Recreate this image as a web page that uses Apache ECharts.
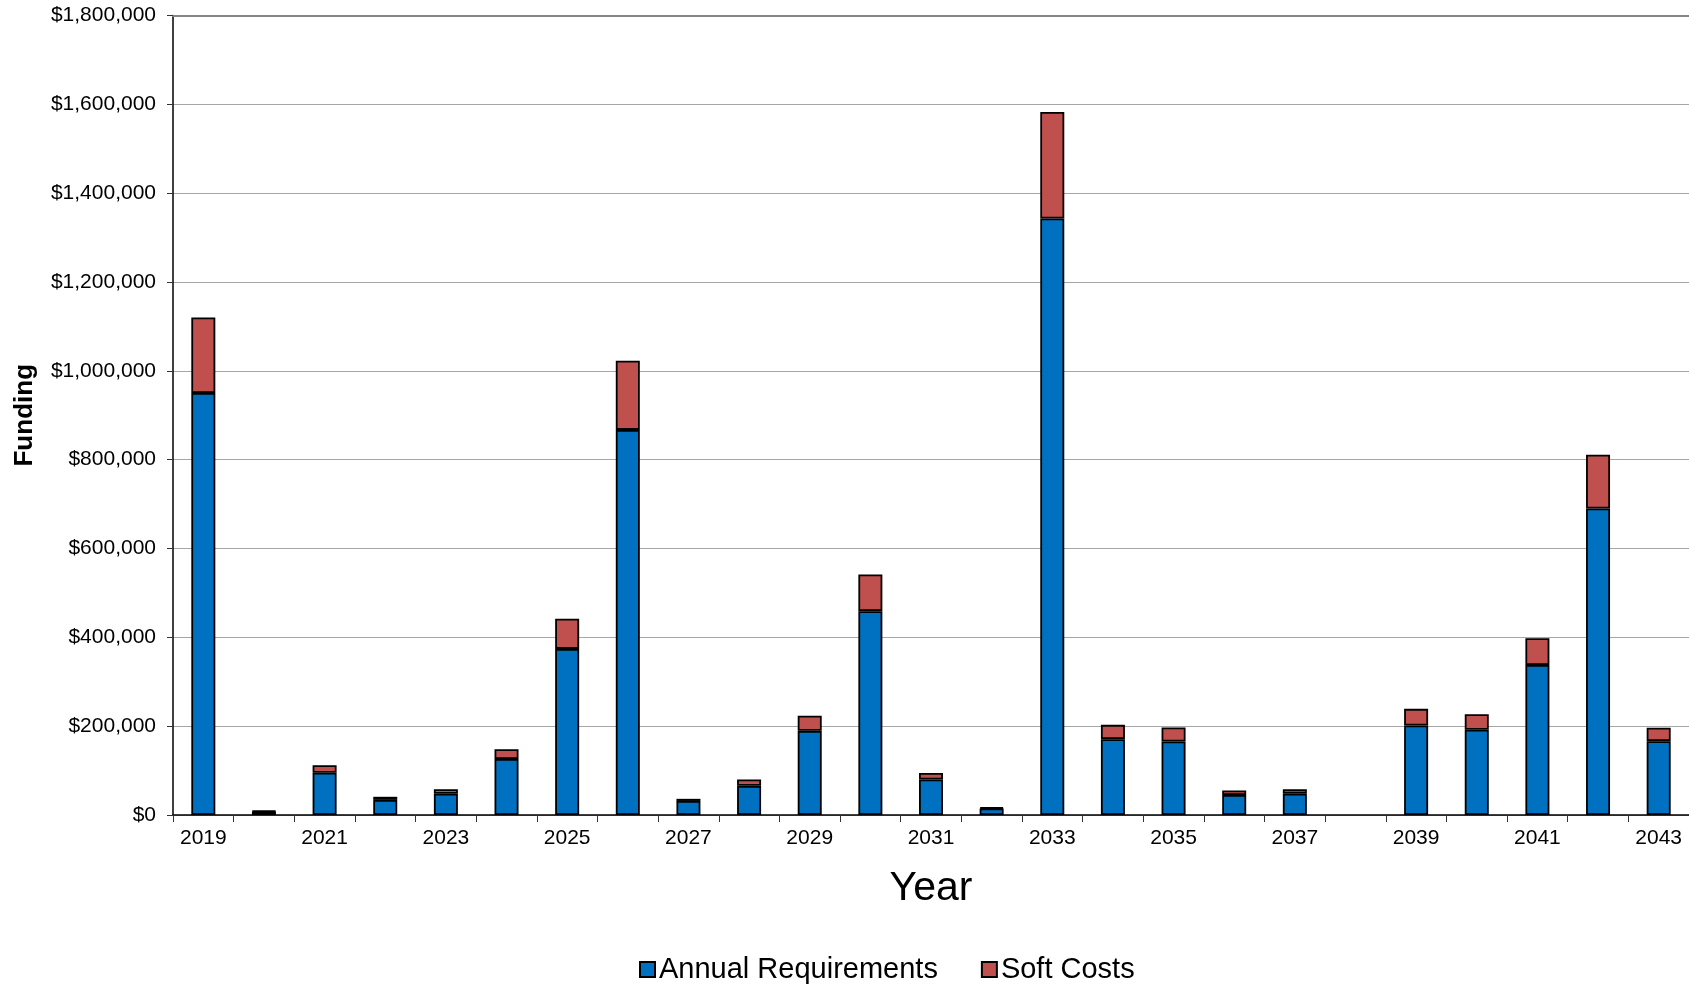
<!DOCTYPE html>
<html>
<head>
<meta charset="utf-8">
<style>
  html, body { margin: 0; padding: 0; background: #ffffff; }
  #chart { width: 1689px; height: 985px; }
</style>
<script src="https://cdn.jsdelivr.net/npm/echarts@6/dist/echarts.min.js"></script>
</head>
<body>
<div id="chart"></div>
<script>
// Funding plan by year: base requirements plus soft costs, stacked.
const years = ['2019','2020','2021','2022','2023','2024','2025','2026','2027','2028','2029','2030',
               '2031','2032','2033','2034','2035','2036','2037','2038','2039','2040','2041','2042','2043'];

const annualRequirements = [950000, 8000, 95000, 34000, 48000, 126000, 374000, 867000, 31600, 65600,
                            189500, 459000, 80000, 14600, 1343000, 170800, 165500, 45000, 48000, null,
                            201500, 191800, 337600, 690000, 166300];

const softCosts = [170000, 1700, 17000, 7000, 10000, 22000, 68000, 155600, 4800, 14400,
                   34000, 82700, 14700, 2400, 240000, 32200, 31500, 10400, 9700, null,
                   37500, 35200, 60400, 121300, 30000];

const yTicks = { min: 0, max: 1800000, step: 200000 };

const FONT = '"Liberation Sans", Arial, sans-serif';

const chart = echarts.init(document.getElementById('chart'), null, { renderer: 'canvas' });

const money = v => '$' + Math.round(v).toLocaleString('en-US');

chart.setOption({
  backgroundColor: '#ffffff',
  animation: false,
  textStyle: { fontFamily: FONT, color: '#000' },
  grid: { left: 173, right: 0, top: 15.5, bottom: 170, containLabel: false },
  legend: {
    left: 634,
    top: 950,
    itemWidth: 15,
    itemHeight: 15,
    itemGap: 43,
    icon: 'rect',
    textStyle: { fontFamily: FONT, fontSize: 29, color: '#000', padding: [0, 0, 0, -1] },
    data: ['Annual Requirements', 'Soft Costs']
  },
  xAxis: [
    {
      type: 'category',
      data: years,
      position: 'bottom',
      boundaryGap: true,
      name: 'Year',
      nameLocation: 'middle',
      nameGap: 53,
      nameTextStyle: { fontFamily: FONT, fontSize: 41, color: '#000' },
      axisLine: { show: true, lineStyle: { color: '#000', width: 1.5 } },
      axisTick: { show: true, interval: 0, alignWithLabel: false, length: 7, lineStyle: { color: '#333', width: 1 } },
      axisLabel: { interval: 1, margin: 13, fontFamily: FONT, fontSize: 21, color: '#000' },
      splitLine: { show: false }
    },
    {
      // top frame line of the plot area
      type: 'category',
      data: years,
      position: 'top',
      axisLine: { show: true, lineStyle: { color: '#858585', width: 2 } },
      axisTick: { show: false },
      axisLabel: { show: false },
      splitLine: { show: false }
    }
  ],
  yAxis: {
    type: 'value',
    min: yTicks.min,
    max: yTicks.max,
    interval: yTicks.step,
    name: 'Funding',
    nameLocation: 'middle',
    nameGap: 135,
    nameTextStyle: { fontFamily: FONT, fontSize: 26, fontWeight: 'bold', color: '#000' },
    axisLine: { show: true, lineStyle: { color: '#000', width: 1.5 } },
    axisTick: { show: true, length: 6, lineStyle: { color: '#333', width: 1 } },
    axisLabel: { margin: 17, fontFamily: FONT, fontSize: 21, color: '#000', formatter: money },
    splitLine: { show: true, lineStyle: { color: '#a6a6a6', width: 1 } }
  },
  series: [
    {
      name: 'Annual Requirements',
      type: 'bar',
      stack: 'total',
      xAxisIndex: 0,
      barWidth: 24,
      data: annualRequirements,
      itemStyle: { color: '#0070C0', borderColor: '#000', borderWidth: 1.8 }
    },
    {
      name: 'Soft Costs',
      type: 'bar',
      stack: 'total',
      xAxisIndex: 0,
      barWidth: 24,
      data: softCosts,
      itemStyle: { color: '#C0504D', borderColor: '#000', borderWidth: 1.8 }
    }
  ]
});
</script>
</body>
</html>
